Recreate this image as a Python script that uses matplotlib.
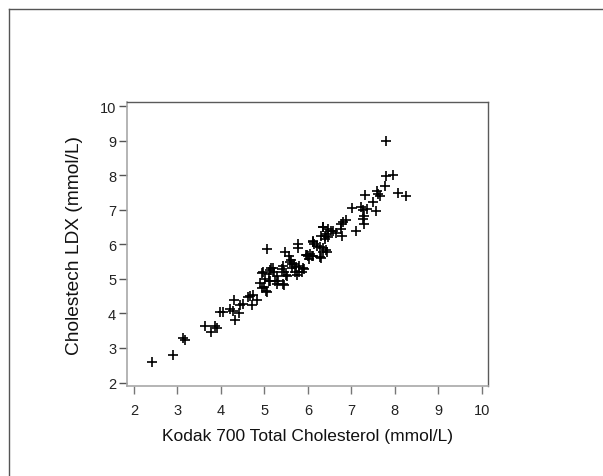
import matplotlib
matplotlib.use("Agg")
import matplotlib.pyplot as plt
from matplotlib.lines import Line2D

kodak = [2.42, 2.91, 3.14, 3.18, 3.64, 3.77, 3.86, 3.91, 3.99, 4.06, 4.22, 4.28, 4.31, 4.32,
         4.41, 4.45, 4.50, 4.62, 4.66, 4.71, 4.74, 4.83, 4.90, 4.94, 4.99, 5.03, 5.06, 4.95,
         5.07, 5.12, 5.14, 5.20, 5.28, 5.31, 5.40, 5.43, 5.44, 5.49, 5.51, 5.47, 5.56, 5.59,
         5.63, 5.72, 5.76, 5.79, 5.91, 5.95, 6.01, 6.05, 6.12, 5.77, 5.77, 5.61, 6.11, 6.14,
         6.21, 6.35, 6.41, 6.47, 6.29, 6.35, 6.41, 5.16, 5.22, 5.10, 4.96, 5.45, 5.64, 5.69,
         5.70, 5.80, 5.89, 5.11, 5.24, 5.29, 5.43, 5.01, 5.86,
         7.79, 7.79, 7.96, 7.77, 7.60, 7.66, 7.62, 8.08, 8.25, 7.31, 7.50, 7.02, 7.22, 7.27,
         7.35, 7.56, 7.29, 7.27, 7.29, 7.10, 6.87, 6.75, 6.80, 6.79, 6.77, 6.34, 6.58, 6.64,
         6.39, 6.47, 6.54, 6.12, 6.28, 6.34, 6.43, 6.03, 6.31, 6.31, 6.39, 5.97, 6.09]
ldx = [2.59, 2.80, 3.30, 3.23, 3.63, 3.46, 3.65, 3.59, 4.05, 4.03, 4.13, 4.06, 4.38, 3.81,
       4.00, 4.25, 4.27, 4.47, 4.52, 4.25, 4.55, 4.40, 4.89, 4.73, 4.78, 4.66, 4.63, 5.17,
       5.86, 4.93, 5.26, 5.33, 5.08, 4.93, 5.29, 5.39, 4.84, 5.12, 5.08, 5.77, 5.66, 5.48,
       5.43, 5.36, 5.12, 5.19, 5.29, 5.70, 5.66, 5.72, 5.68, 6.00, 5.89, 5.56, 6.08, 6.01,
       5.97, 6.50, 6.30, 6.45, 5.63, 5.79, 5.85, 5.31, 5.21, 5.14, 5.19, 5.19, 5.31, 5.43,
       5.19, 5.38, 5.32, 4.95, 4.93, 4.86, 4.86, 5.00, 5.21,
       9.01, 7.98, 8.01, 7.70, 7.55, 7.41, 7.46, 7.49, 7.41, 7.43, 7.24, 7.06, 7.08, 7.01,
       7.03, 6.96, 6.83, 6.74, 6.59, 6.40, 6.71, 6.59, 6.64, 6.26, 6.45, 6.50, 6.40, 6.33,
       6.26, 6.21, 6.40, 6.11, 5.92, 5.89, 5.79, 5.58, 5.60, 6.26, 6.16, 5.70, 5.68]

ticks = [2, 3, 4, 5, 6, 7, 8, 9, 10]
xlabel = "Kodak 700 Total Cholesterol (mmol/L)"
ylabel = "Cholestech LDX (mmol/L)"

plt.rcParams['font.family'] = ['Liberation Sans', 'DejaVu Sans']

fig = plt.figure(figsize=(6.03, 4.77), dpi=100)
ax = fig.add_axes([127.3 / 603, 89.7 / 477, (488 - 127.3) / 603, (387.3 - 103.3) / 477])

ax.scatter(kodak, ldx, marker='+', s=42, c='black', linewidths=1.2, zorder=3)

ax.set_xlim(1.85, 10.14)
ax.set_ylim(1.89, 10.12)
ax.set_xticks(ticks)
ax.set_yticks(ticks)
ax.set_xticklabels([str(t) for t in ticks])
ax.set_yticklabels([str(t) for t in ticks])

for side in ['top', 'right']:
    ax.spines[side].set_color('#5a5a5a')
    ax.spines[side].set_linewidth(1.0)
for side in ['left', 'bottom']:
    ax.spines[side].set_color('#a8a8a8')
    ax.spines[side].set_linewidth(1.2)

ax.tick_params(axis='x', direction='out', length=6, width=1, color='#777777',
               pad=6, labelsize=10.5, labelcolor='#222222')
ax.tick_params(axis='y', direction='out', length=6, width=1, color='#555555',
               pad=2, labelsize=10.5, labelcolor='#222222')

ax.set_xlabel(xlabel, fontsize=12.5, color='#111111', labelpad=8)
ax.set_ylabel(ylabel, fontsize=13.8, color='#111111', labelpad=12)

# outer frame lines
fig.add_artist(Line2D([8.5 / 603, 1.0], [1 - 9.6 / 477, 1 - 9.6 / 477],
                      transform=fig.transFigure, color='#555555', linewidth=1.0))
fig.add_artist(Line2D([8.5 / 603, 8.5 / 603], [0.0, 1 - 9.6 / 477],
                      transform=fig.transFigure, color='#555555', linewidth=1.0))

fig.savefig("out.png", dpi=100)
